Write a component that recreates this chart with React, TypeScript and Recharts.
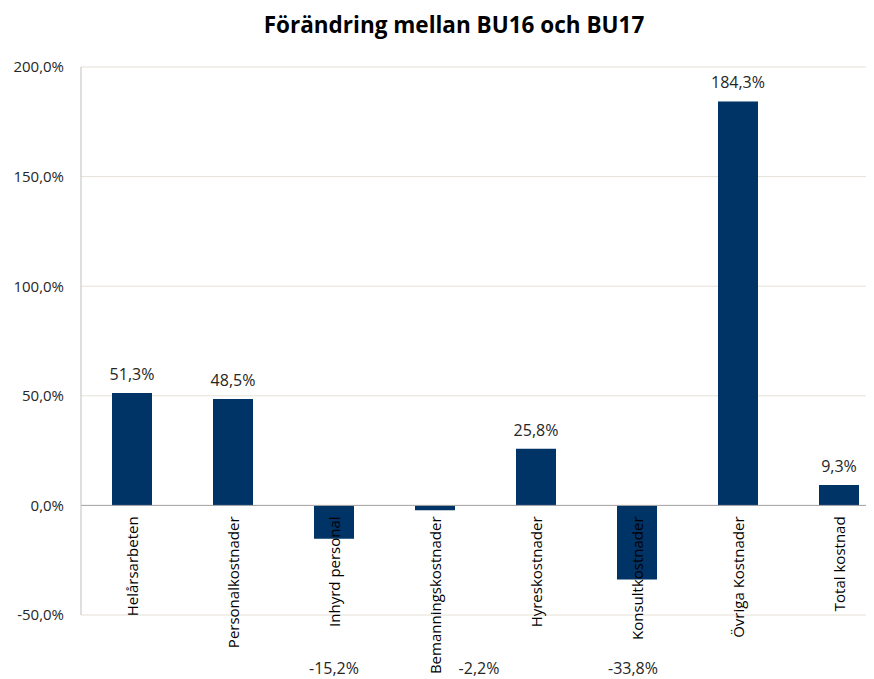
import React from "react";
import { BarChart, Bar, XAxis, YAxis, CartesianGrid, ReferenceLine, LabelList, Customized } from "recharts";

const categories = [
  "Helårsarbeten",
  "Personalkostnader",
  "Inhyrd personal",
  "Bemanningskostnader",
  "Hyreskostnader",
  "Konsultkostnader",
  "Övriga Kostnader",
  "Total kostnad",
];
const changes = [51.3, 48.5, -15.2, -2.2, 25.8, -33.8, 184.3, 9.3];
const yTicks = [-50, 0, 50, 100, 150, 200];
const title = "Förändring mellan BU16 och BU17";

const data = categories.map((name, i) => ({ name, value: changes[i] }));

const W = 900;
const H = 671;
const MARGIN = { top: 59, right: 19, bottom: 64, left: 0 };
const PLOT_BOTTOM = H - MARGIN.bottom;
const FONT = "'Open Sans', 'DejaVu Sans', sans-serif";
const BAR_COLOR = "#003366";
const TEXT_COLOR = "#262626";

const fmt = (v: number) => v.toFixed(1).replace(".", ",") + "%";

const NEG_NUDGE: Record<string, number> = { "Bemanningskostnader": 44, "Konsultkostnader": -4 };

const ValueLabel = (props: any) => {
  const { x, y, width, value, index } = props;
  const cx = x + width / 2;
  if (value >= 0) {
    return (
      <text x={cx} y={y - 19} textAnchor="middle" dominantBaseline="central" fontFamily={FONT} fontSize={16} fill={TEXT_COLOR}>
        {fmt(value)}
      </text>
    );
  }
  const nudge = NEG_NUDGE[categories[index]] || 0;
  return (
    <text x={cx + nudge} y={PLOT_BOTTOM + 53} textAnchor="middle" dominantBaseline="central" fontFamily={FONT} fontSize={16} fill={TEXT_COLOR}>
      {fmt(value)}
    </text>
  );
};

const CategoryLabel = (props: any) => {
  const { x, y, width, height, index } = props;
  const v = changes[index];
  const zeroY = v >= 0 ? y + height : height < 0 ? y + height : y;
  const cx = x + width / 2;
  const ty = zeroY + 11;
  return (
    <text
      x={cx}
      y={ty}
      transform={`rotate(-90 ${cx} ${ty})`}
      textAnchor="end"
      dominantBaseline="central"
      fontFamily={FONT}
      fontSize={15}
      fill="#000000"
    >
      {categories[index]}
    </text>
  );
};

const Title = () => (
  <text x={446} y={24.5} textAnchor="middle" fontFamily={FONT} fontWeight={700} fontSize={22.5} fill="#000000">
    {title}
  </text>
);

export default function App() {
  return (
    <div style={{ position: "relative", width: 866, height: H, overflow: "hidden", background: "#fff" }}>
      <BarChart width={W} height={H} data={data} margin={MARGIN} barSize={40}>
        <CartesianGrid vertical={false} stroke="#e6e0d8" strokeWidth={1} />
        <XAxis dataKey="name" hide height={0} />
        <YAxis
          type="number"
          domain={[-50, 200]}
          ticks={yTicks}
          width={73}
          axisLine={{ stroke: "#bfbfbf" }}
          tickLine={false}
          tickSize={0}
          tickMargin={17}
          tickFormatter={fmt}
          tick={{ fontFamily: FONT, fontSize: 15, fill: TEXT_COLOR }}
          interval={0}
        />
        <ReferenceLine y={0} stroke="#a6a6a6" strokeWidth={1} />
        <Bar dataKey="value" fill={BAR_COLOR} isAnimationActive={false}>
          <LabelList dataKey="value" content={ValueLabel} />
          <LabelList dataKey="name" content={CategoryLabel} />
        </Bar>
        <Customized component={Title} />
      </BarChart>
    </div>
  );
}
